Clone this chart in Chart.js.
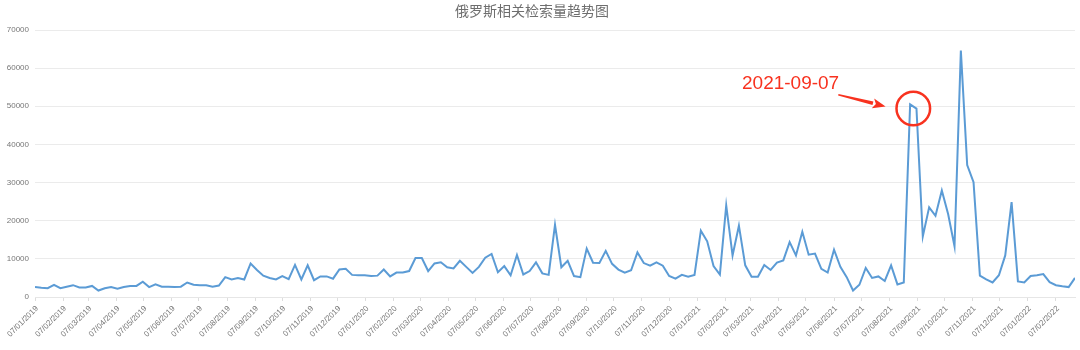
<!DOCTYPE html>
<html><head><meta charset="utf-8">
<script src="https://cdn.jsdelivr.net/npm/chart.js@4.4.1/dist/chart.umd.min.js"></script>
<style>html,body{margin:0;padding:0;background:#fff}#wrap{width:1080px;height:350px;position:relative}</style>
</head><body><div id="wrap"><canvas id="c" width="1080" height="350"></canvas></div>
<script>
const chartTitle = '俄罗斯相关检索量趋势图';

const weekDates = [
'2019-01-07','2019-01-14','2019-01-21','2019-01-28','2019-02-04','2019-02-11','2019-02-18','2019-02-25','2019-03-04','2019-03-11','2019-03-18','2019-03-25','2019-04-01','2019-04-08','2019-04-15','2019-04-22','2019-04-29','2019-05-06','2019-05-13','2019-05-20','2019-05-27','2019-06-03','2019-06-10','2019-06-17','2019-06-24','2019-07-01','2019-07-08','2019-07-15','2019-07-22','2019-07-29','2019-08-05','2019-08-12','2019-08-19','2019-08-26','2019-09-02','2019-09-09','2019-09-16','2019-09-23','2019-09-30','2019-10-07','2019-10-14','2019-10-21','2019-10-28','2019-11-04','2019-11-11','2019-11-18','2019-11-25','2019-12-02','2019-12-09','2019-12-16','2019-12-23','2019-12-30',
'2020-01-06','2020-01-13','2020-01-20','2020-01-27','2020-02-03','2020-02-10','2020-02-17','2020-02-24','2020-03-02','2020-03-09','2020-03-16','2020-03-23','2020-03-30','2020-04-06','2020-04-13','2020-04-20','2020-04-27','2020-05-04','2020-05-11','2020-05-18','2020-05-25','2020-06-01','2020-06-08','2020-06-15','2020-06-22','2020-06-29','2020-07-06','2020-07-13','2020-07-20','2020-07-27','2020-08-03','2020-08-10','2020-08-17','2020-08-24','2020-08-31','2020-09-07','2020-09-14','2020-09-21','2020-09-28','2020-10-05','2020-10-12','2020-10-19','2020-10-26','2020-11-02','2020-11-09','2020-11-16','2020-11-23','2020-11-30','2020-12-07','2020-12-14','2020-12-21','2020-12-28',
'2021-01-04','2021-01-11','2021-01-18','2021-01-25','2021-02-01','2021-02-08','2021-02-15','2021-02-22','2021-03-01','2021-03-08','2021-03-15','2021-03-22','2021-03-29','2021-04-05','2021-04-12','2021-04-19','2021-04-26','2021-05-03','2021-05-10','2021-05-17','2021-05-24','2021-05-31','2021-06-07','2021-06-14','2021-06-21','2021-06-28','2021-07-05','2021-07-12','2021-07-19','2021-07-26','2021-08-02','2021-08-09','2021-08-16','2021-08-23','2021-08-30','2021-09-06','2021-09-13','2021-09-20','2021-09-27','2021-10-04','2021-10-11','2021-10-18','2021-10-25','2021-11-01','2021-11-08','2021-11-15','2021-11-22','2021-11-29','2021-12-06','2021-12-13','2021-12-20','2021-12-27',
'2022-01-03','2022-01-10','2022-01-17','2022-01-24','2022-01-31','2022-02-07','2022-02-14','2022-02-21','2022-02-28'
];

const searchVolume = [
2600,2400,2300,3200,2300,2700,3100,2500,2500,2900,
1700,2300,2600,2200,2600,2900,2900,4000,2600,3300,
2700,2700,2600,2700,3800,3200,3100,3100,2700,3000,
5200,4600,5000,4600,8800,7100,5600,5000,4600,5500,
4700,8400,
4600,8300,4400,5400,5400,4800,7200,7400,5800,5700,
5700,5500,5600,7200,5400,6400,6400,6800,10200,10200,
6800,8800,9100,7800,7500,9500,7900,6300,7900,10300,
11300,6500,8100,5700,11000,5900,6800,9100,6200,5800,
18900,7800,
9500,5500,5200,12700,9000,8900,12100,8700,7200,6400,
7000,11700,8900,8200,9100,8200,5500,4800,5800,5300,
5800,17400,14600,8100,5900,24000,10900,18700,8300,5300,
5300,8400,7100,9000,9600,14400,10900,17100,11100,11400,
7400,
6400,12400,7900,5200,1700,3200,7600,5000,5400,4200,
8300,3300,3800,50500,49400,15900,23500,21300,27900,21700,
13300,64600,34600,30100,5600,4600,3800,5700,10900,24900,
4100,3800,5500,5700,6000,3900,3100,2800,2600,5000
];

const xTickLabels = [
'07/01/2019','07/02/2019','07/03/2019','07/04/2019','07/05/2019','07/06/2019','07/07/2019','07/08/2019','07/09/2019','07/10/2019','07/11/2019','07/12/2019',
'07/01/2020','07/02/2020','07/03/2020','07/04/2020','07/05/2020','07/06/2020','07/07/2020','07/08/2020','07/09/2020','07/10/2020','07/11/2020','07/12/2020',
'07/01/2021','07/02/2021','07/03/2021','07/04/2021','07/05/2021','07/06/2021','07/07/2021','07/08/2021','07/09/2021','07/10/2021','07/11/2021','07/12/2021',
'07/01/2022','07/02/2022'
];

const yTickValues = [0,10000,20000,30000,40000,50000,60000,70000];

const annotationText = '2021-09-07';
const annotationPeakDates = ['2021-08-30','2021-09-06'];

function dayNum(iso){const [y,m,d]=iso.split('-').map(Number);return Date.UTC(y,m-1,d)/86400000;}
function dayNumDMY(s){const [d,m,y]=s.split('/').map(Number);return Date.UTC(y,m-1,d)/86400000;}
const tickDayToLabel = new Map(xTickLabels.map(l=>[dayNumDMY(l),l]));
const points = weekDates.map((d,i)=>({x:dayNum(d),y:searchVolume[i]}));

const RED = '#f8321f';

const titlePlugin = {
  id:'titleText',
  afterDraw(chart){
    const ctx=chart.ctx; ctx.save();
    ctx.font='14px "Noto Sans CJK SC"'; ctx.fillStyle='#6e6e6e';
    ctx.textAlign='center'; ctx.textBaseline='middle';
    ctx.fillText(chartTitle, 532, 11);
    ctx.restore();
  }
};

const annotPlugin = {
  id:'annot',
  afterDatasetsDraw(chart){
    const xs=chart.scales.x, ys=chart.scales.y, ctx=chart.ctx;
    const idx = annotationPeakDates.map(d=>weekDates.indexOf(d));
    const cx = (xs.getPixelForValue(points[idx[0]].x)+xs.getPixelForValue(points[idx[1]].x))/2;
    const cy = (ys.getPixelForValue(points[idx[0]].y)+ys.getPixelForValue(points[idx[1]].y))/2 + 2;
    ctx.save();
    ctx.strokeStyle=RED; ctx.fillStyle=RED;
    ctx.lineWidth=2.5;
    ctx.beginPath(); ctx.arc(cx,cy,16.8,0,Math.PI*2); ctx.stroke();
    const tx=cx-75, ty=cy-13.7, hx=cx-27.7, hy=cy-2;
    const ang=Math.atan2(hy-ty,hx-tx), c=Math.cos(ang), s=Math.sin(ang);
    const hl=13, hw=5;
    const bx=hx-hl*c, by=hy-hl*s;
    ctx.beginPath();
    ctx.moveTo(tx - s*0.8, ty + c*0.8);
    ctx.lineTo(bx - s*1.8, by + c*1.8);
    ctx.lineTo(bx + s*1.8, by - c*1.8);
    ctx.lineTo(tx + s*0.8, ty - c*0.8);
    ctx.closePath(); ctx.fill();
    ctx.beginPath();
    ctx.moveTo(hx,hy);
    ctx.lineTo(bx - s*hw, by + c*hw);
    ctx.lineTo(bx + 3*c, by + 3*s);
    ctx.lineTo(bx + s*hw, by - c*hw);
    ctx.closePath(); ctx.fill();
    ctx.font='19px "Liberation Sans"'; ctx.textAlign='left'; ctx.textBaseline='alphabetic';
    ctx.fillText(annotationText, cx-171.3, cy-19.4);
    ctx.restore();
  }
};

new Chart(document.getElementById('c'), {
  type:'line',
  data:{datasets:[{
    data:points,
    borderColor:'#5b9bd5',
    borderWidth:2,
    pointRadius:0,
    tension:0,
    fill:false
  }]},
  options:{
    responsive:false,
    devicePixelRatio:1,
    animation:false,
    layout:{padding:{top:30,right:5,left:0,bottom:0}},
    plugins:{legend:{display:false},title:{display:false},tooltip:{enabled:false}},
    scales:{
      x:{
        type:'linear',
        min:points[0].x, max:points[points.length-1].x,
        afterBuildTicks(axis){ axis.ticks=[...tickDayToLabel.keys()].map(v=>({value:v})); },
        afterFit(s){ s.height=53; s.paddingLeft=0; s.paddingRight=0; },
        ticks:{autoSkip:false,minRotation:45,maxRotation:45,padding:3,labelOffset:2,color:'#777',
          font:{family:'"Liberation Sans", Arial, sans-serif',size:8},
          callback:(v)=>tickDayToLabel.get(v)||''},
        grid:{drawOnChartArea:false,drawTicks:true,tickLength:4,color:'#dddddd'},
        border:{display:true,color:'#e6e6e6'}
      },
      y:{
        min:0,max:70000,
        afterBuildTicks(axis){ axis.ticks=yTickValues.map(v=>({value:v})); },
        afterFit(s){ s.width=35; },
        ticks:{padding:6,color:'#777',font:{family:'"Liberation Sans", Arial, sans-serif',size:8},
          callback:(v)=>String(v)},
        grid:{color:'#ebebeb',drawTicks:false},
        border:{display:false}
      }
    }
  },
  plugins:[titlePlugin, annotPlugin]
});
</script>
</body></html>
